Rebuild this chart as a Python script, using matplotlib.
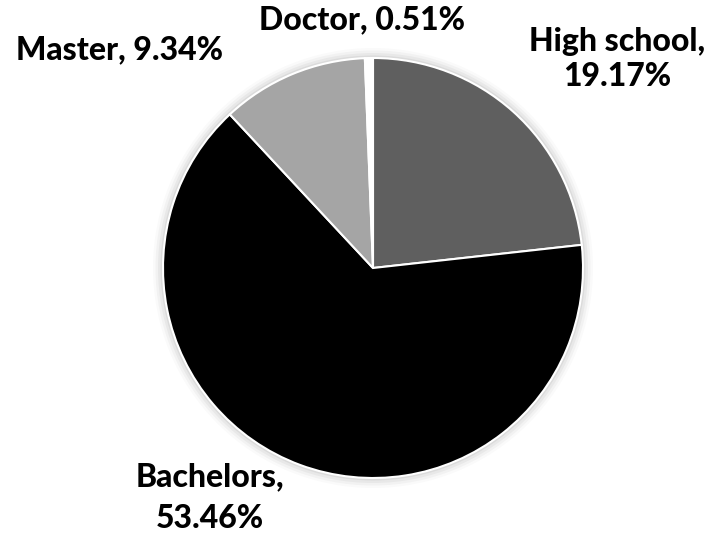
import matplotlib.pyplot as plt
from matplotlib.patches import Circle

# education level shares (percent of respondents)
levels = ['High school', 'Bachelors', 'Master', 'Doctor']
shares = [19.17, 53.46, 9.34, 0.51]
colors = ['#5f5f5f', '#000000', '#a5a5a5', '#ffffff']

# label lines with their centre points in figure pixels
label_lines = [
    [(f'{levels[0]},', 617, 42), (f'{shares[0]:.2f}%', 617, 76)],
    [(f'{levels[1]},', 210, 477), (f'{shares[1]:.2f}%', 210, 519)],
    [(f'{levels[2]}, {shares[2]:.2f}%', 120, 50)],
    [(f'{levels[3]}, {shares[3]:.2f}%', 362, 20)],
]

W, H = 712, 539
cx, cy, r = 373, 268, 210
fig = plt.figure(figsize=(W / 100, H / 100), dpi=100)
ax = fig.add_axes([(cx - r) / W, (H - cy - r) / H, 2 * r / W, 2 * r / H])

# soft shadow ring behind the pie
for i, a in enumerate([0.05, 0.04, 0.03, 0.02]):
    ax.add_patch(Circle((0, 0), 1.0 + 0.012 * (i + 1), color='#000000', alpha=a,
                        lw=0, zorder=0, clip_on=False))

wedges, _ = ax.pie(shares, colors=colors, startangle=90, counterclock=False, radius=1.0,
                   wedgeprops=dict(edgecolor='white', linewidth=1.5), normalize=True)
for w in wedges:
    w.set_clip_on(False)
ax.set_xlim(-1, 1)
ax.set_ylim(-1, 1)
ax.set_aspect('equal')
ax.axis('off')

for lines in label_lines:
    for txt, x, y in lines:
        fig.text(x / W, 1 - y / H, txt, ha='center', va='center',
                 fontsize=23, fontweight='black', family='Lato')

fig.savefig('out.png', dpi=100)
